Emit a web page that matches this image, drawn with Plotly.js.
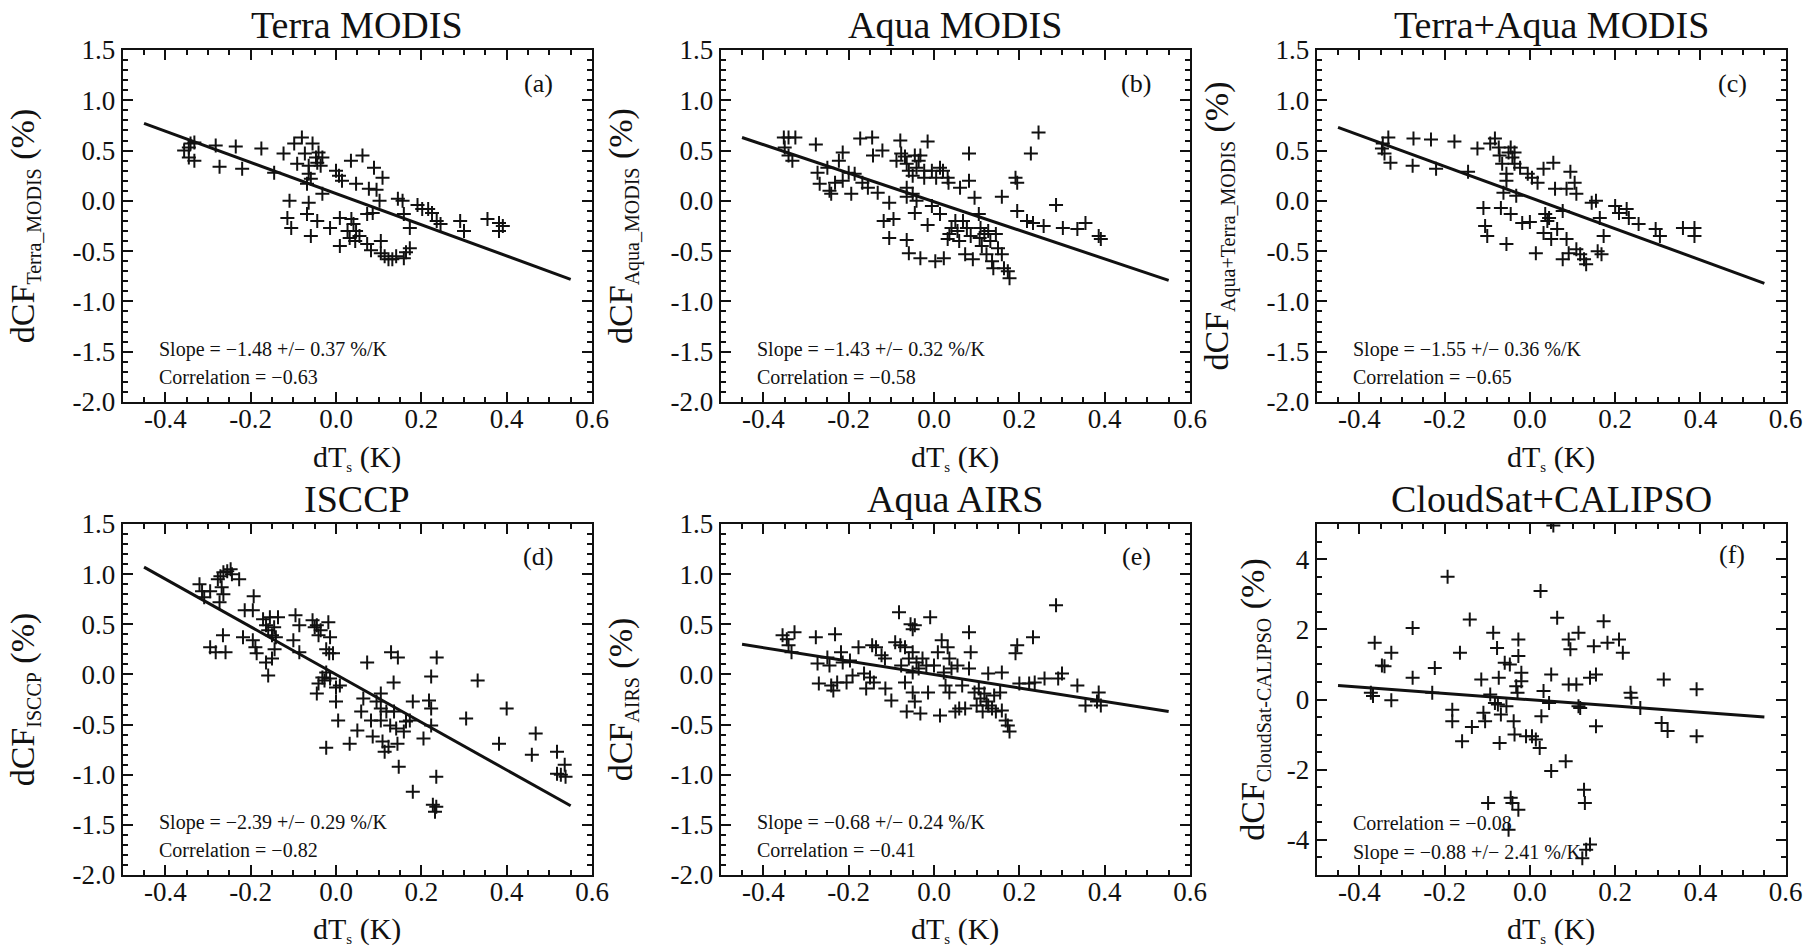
<!DOCTYPE html>
<html>
<head>
<meta charset="utf-8">
<script src="https://cdn.plot.ly/plotly-3.0.1.min.js"></script>
<style>
html,body{margin:0;padding:0;background:#ffffff;}
#chart{width:1818px;height:946px;}
</style>
</head>
<body>
<div id="chart"></div>
<script>
// ---------------- data ----------------
const panelTitles = ['Terra MODIS', 'Aqua MODIS', 'Terra+Aqua MODIS', 'ISCCP', 'Aqua AIRS', 'CloudSat+CALIPSO'];
const panelLetters = ['(a)', '(b)', '(c)', '(d)', '(e)', '(f)'];
const ySubscripts = ['Terra_MODIS', 'Aqua_MODIS', 'Aqua+Terra_MODIS', 'ISCCP', 'AIRS', 'CloudSat-CALIPSO'];
const slopeTexts = ['Slope = −1.48 +/− 0.37 %/K', 'Slope = −1.43 +/− 0.32 %/K', 'Slope = −1.55 +/− 0.36 %/K',
                    'Slope = −2.39 +/− 0.29 %/K', 'Slope = −0.68 +/− 0.24 %/K', 'Slope = −0.88 +/− 2.41 %/K'];
const corrTexts = ['Correlation = −0.63', 'Correlation = −0.58', 'Correlation = −0.65',
                   'Correlation = −0.82', 'Correlation = −0.41', 'Correlation = −0.08'];

const xTickVals = [-0.4, -0.2, 0.0, 0.2, 0.4, 0.6];
const xTickText = ['-0.4', '-0.2', '0.0', '0.2', '0.4', '0.6'];
const yTickVals = [-2.0, -1.5, -1.0, -0.5, 0.0, 0.5, 1.0, 1.5];
const yTickText = ['-2.0', '-1.5', '-1.0', '-0.5', '0.0', '0.5', '1.0', '1.5'];
const yTickValsF = [-4, -2, 0, 2, 4];
const yTickTextF = ['-4', '-2', '0', '2', '4'];

// regression lines: endpoints at fitX
const fitX = [-0.45, 0.55];
const fitA = [0.77, -0.78];
const fitB = [0.63, -0.79];
const fitC = [0.73, -0.82];
const fitD = [1.07, -1.31];
const fitE = [0.30, -0.37];
const fitF = [0.40, -0.50];

// (a) Terra MODIS
const xA = [-0.356,-0.345,-0.332,-0.341,-0.332,-0.345,-0.282,-0.273,-0.235,-0.22,
-0.175,-0.145,-0.123,-0.098,-0.08,-0.091,-0.073,-0.064,-0.055,-0.047,
-0.041,-0.044,-0.032,-0.036,-0.064,-0.068,-0.059,-0.032,-0.109,-0.064,
-0.114,-0.105,-0.068,-0.044,-0.059,-0.014,0.0,0.007,0.014,0.047,
0.035,0.062,0.089,0.109,0.077,0.095,0.102,0.086,0.073,0.009,
0.036,0.041,0.047,0.027,0.055,0.009,0.032,0.045,0.073,0.082,
0.105,0.105,0.114,0.123,0.132,0.141,0.159,0.164,0.173,0.173,
0.159,0.145,0.156,0.191,0.202,0.216,0.225,0.245,0.236,0.291,
0.30,0.355,0.382,0.391,0.382];
const yA = [0.50,0.43,0.40,0.57,0.58,0.53,0.55,0.34,0.54,0.32,
0.52,0.28,0.47,0.57,0.63,0.37,0.47,0.35,0.57,0.43,
0.48,0.38,0.43,0.35,0.27,0.17,0.22,0.07,0.0,-0.02,
-0.17,-0.27,-0.13,-0.2,-0.35,-0.27,0.30,0.25,0.2,0.17,
0.40,0.45,0.33,0.23,0.12,0.11,0.0,-0.12,-0.13,-0.17,
-0.18,-0.23,-0.30,-0.30,-0.35,-0.45,-0.37,-0.40,-0.43,-0.49,
-0.40,-0.52,-0.55,-0.58,-0.58,-0.55,-0.57,-0.51,-0.47,-0.27,
-0.13,0.02,0.0,-0.04,-0.08,-0.08,-0.12,-0.23,-0.20,-0.20,
-0.30,-0.18,-0.22,-0.25,-0.30];

// (b) Aqua MODIS
const xB = [-0.352,-0.341,-0.325,-0.35,-0.341,-0.332,-0.277,-0.273,-0.268,-0.25,
-0.245,-0.241,-0.232,-0.223,-0.214,-0.214,-0.2,-0.194,-0.186,-0.168,
-0.155,-0.173,-0.145,-0.143,-0.132,-0.121,-0.105,-0.118,-0.095,-0.105,
-0.079,-0.077,-0.088,-0.068,-0.064,-0.059,-0.05,-0.045,-0.041,-0.036,
-0.032,-0.023,-0.023,-0.064,-0.05,-0.064,-0.041,-0.045,-0.064,-0.059,
-0.032,-0.015,-0.005,0.005,0.014,0.032,0.021,0.034,-0.005,0.014,
-0.015,0.003,0.023,0.036,0.032,0.041,0.05,0.055,0.059,0.061,
0.082,0.082,0.095,0.068,0.077,0.086,0.073,0.091,0.105,0.109,
0.107,0.112,0.118,0.123,0.127,0.132,0.139,0.136,0.145,0.15,
0.159,0.159,0.164,0.173,0.177,0.191,0.195,0.195,0.218,0.227,
0.245,0.232,0.257,0.286,0.302,0.336,0.355,0.386,0.391];
const yB = [0.63,0.63,0.63,0.53,0.45,0.40,0.56,0.28,0.17,0.33,
0.10,0.07,0.18,0.40,0.48,0.20,0.28,0.07,0.27,0.18,
0.13,0.62,0.63,0.45,0.08,0.50,-0.02,-0.20,-0.18,-0.37,
0.60,0.47,0.40,0.44,0.37,0.30,0.25,0.45,0.33,0.40,
0.45,0.30,0.23,0.13,0.07,0.04,0.0,-0.12,-0.39,-0.52,
-0.57,0.59,0.30,0.23,0.33,0.23,0.30,0.18,-0.05,-0.13,
-0.24,-0.60,-0.57,-0.33,-0.38,-0.27,-0.2,-0.30,-0.40,0.13,
0.20,0.47,0.03,-0.2,-0.27,-0.35,-0.53,-0.58,-0.13,-0.27,
-0.37,-0.45,-0.33,-0.53,-0.30,-0.40,-0.67,-0.60,-0.33,-0.47,
-0.53,0.04,-0.67,-0.70,-0.77,0.23,0.18,-0.10,-0.20,0.47,
0.68,-0.22,-0.25,-0.04,-0.27,-0.28,-0.22,-0.35,-0.38];

// (c) Terra+Aqua MODIS
const xC = [-0.345,-0.347,-0.341,-0.332,-0.327,-0.273,-0.275,-0.232,-0.22,-0.177,
-0.145,-0.123,-0.109,-0.105,-0.1,-0.093,-0.082,-0.073,-0.071,-0.065,
-0.068,-0.055,-0.062,-0.055,-0.055,-0.05,-0.041,-0.036,-0.045,-0.036,
-0.023,-0.032,-0.045,-0.018,-0.005,0.005,0.018,0.0,0.014,0.032,
0.055,0.059,0.036,0.045,0.041,0.032,0.05,0.064,0.077,0.086,
0.095,0.105,0.109,0.086,0.077,0.091,0.109,0.118,0.127,0.132,
0.155,0.145,0.159,0.168,0.173,0.164,0.2,0.209,0.227,0.232,
0.255,0.295,0.305,0.359,0.386,0.386];
const yC = [0.57,0.52,0.47,0.63,0.38,0.62,0.35,0.61,0.32,0.59,
0.29,0.52,-0.07,-0.25,-0.35,0.57,0.62,0.53,0.45,0.37,
-0.07,-0.43,0.08,0.27,0.20,0.48,0.43,0.37,0.53,0.48,
0.33,0.05,-0.13,-0.22,0.27,0.23,0.18,-0.21,-0.52,0.32,
0.38,0.12,-0.13,-0.17,-0.20,-0.32,-0.38,-0.28,-0.10,0.12,
0.29,0.18,0.07,-0.38,-0.58,-0.52,-0.48,-0.53,-0.58,-0.63,
0.0,-0.02,-0.50,-0.53,-0.35,-0.17,-0.05,-0.12,-0.08,-0.17,
-0.23,-0.28,-0.35,-0.27,-0.27,-0.35];

// (d) ISCCP
const xD = [-0.32,-0.314,-0.309,-0.295,-0.277,-0.271,-0.264,-0.255,-0.247,-0.244,
-0.227,-0.268,-0.264,-0.273,-0.295,-0.282,-0.259,-0.265,-0.214,-0.195,
-0.193,-0.218,-0.195,-0.189,-0.186,-0.171,-0.164,-0.159,-0.155,-0.145,
-0.141,-0.15,-0.164,-0.159,-0.15,-0.144,-0.136,-0.1,-0.095,-0.086,
-0.086,-0.055,-0.05,-0.045,-0.041,-0.036,-0.018,-0.014,-0.023,-0.016,
-0.007,-0.023,-0.032,-0.041,-0.027,-0.045,-0.014,0.0,0.009,0.0,
0.005,-0.023,0.032,0.05,0.059,0.064,0.073,0.082,0.086,0.095,
0.105,0.105,0.105,0.109,0.114,0.118,0.127,0.123,0.129,0.135,
0.136,0.141,0.144,0.145,0.147,0.159,0.164,0.173,0.18,0.18,
0.205,0.218,0.223,0.223,0.223,0.235,0.236,0.227,0.232,0.235,
0.305,0.332,0.382,0.40,0.459,0.468,0.518,0.518,0.527,0.536,0.538];
const yD = [0.90,0.83,0.77,0.83,0.95,0.98,1.02,1.03,1.05,1.0,
0.95,0.87,0.80,0.72,0.27,0.22,0.22,0.39,0.64,0.64,
0.78,0.37,0.34,0.27,0.21,0.55,0.49,0.44,0.57,0.47,
0.37,0.39,0.12,-0.01,0.16,0.25,0.57,0.34,0.59,0.22,
0.49,0.54,0.47,0.49,0.39,0.44,0.52,0.37,0.25,0.21,
0.21,0.02,-0.03,-0.09,-0.06,-0.19,-0.04,-0.13,-0.11,-0.27,
-0.46,-0.73,-0.69,-0.56,-0.37,-0.24,0.12,-0.46,-0.62,-0.27,
-0.19,-0.34,-0.46,-0.67,-0.77,-0.37,-0.51,-0.72,0.22,-0.08,
-0.37,-0.54,-0.69,0.17,-0.92,-0.57,-0.47,-0.46,-0.27,-1.17,
-0.64,-0.26,-0.34,-0.02,-0.51,-1.02,0.17,-1.30,-1.37,-1.32,
-0.44,-0.06,-0.69,-0.34,-0.80,-0.59,-0.77,-0.99,-1.00,-0.90,-1.02];

// (e) Aqua AIRS
const xE = [-0.355,-0.345,-0.341,-0.327,-0.334,-0.277,-0.273,-0.27,-0.25,-0.245,
-0.241,-0.236,-0.232,-0.227,-0.218,-0.214,-0.205,-0.197,-0.191,-0.177,
-0.164,-0.159,-0.15,-0.145,-0.136,-0.141,-0.123,-0.115,-0.114,-0.1,
-0.091,-0.082,-0.079,-0.077,-0.068,-0.068,-0.064,-0.059,-0.055,-0.05,
-0.045,-0.05,-0.05,-0.05,-0.045,-0.041,-0.036,-0.032,-0.027,-0.018,
-0.014,-0.009,0.0,0.009,0.014,0.018,0.023,0.027,0.032,0.036,
0.036,0.041,0.05,0.055,0.059,0.066,0.082,0.082,0.086,0.073,
0.095,0.1,0.105,0.109,0.114,0.118,0.123,0.127,0.127,0.136,
0.141,0.145,0.155,0.159,0.159,0.168,0.173,0.177,0.191,0.195,
0.2,0.223,0.232,0.236,0.259,0.286,0.291,0.3,0.336,0.355,
0.386,0.382,0.391];
const yE = [0.39,0.35,0.29,0.42,0.22,0.37,0.11,-0.09,0.17,0.09,
-0.11,-0.16,0.40,-0.08,0.22,0.12,-0.08,0.14,-0.01,0.27,
0.01,-0.14,-0.03,0.29,0.27,-0.08,0.19,0.16,-0.14,-0.26,
0.32,0.62,0.29,0.09,0.27,-0.08,-0.37,0.16,0.50,0.45,
0.49,0.22,0.02,-0.18,-0.27,0.12,0.06,-0.39,0.16,0.09,
-0.18,0.57,0.09,0.22,-0.41,0.34,0.02,-0.11,0.27,0.16,
-0.18,0.06,-0.37,0.09,-0.34,-0.11,0.42,0.06,0.22,-0.34,
-0.18,-0.31,-0.14,-0.24,-0.37,-0.19,-0.27,0.01,-0.31,-0.34,
-0.21,-0.37,-0.18,0.02,-0.36,-0.46,-0.51,-0.57,0.21,0.29,
-0.09,-0.09,0.37,-0.08,-0.04,0.69,-0.04,0.01,-0.11,-0.31,
-0.18,-0.27,-0.31];

// (f) CloudSat+CALIPSO
const xF = [-0.364,-0.373,-0.368,-0.347,-0.341,-0.325,-0.325,-0.275,-0.275,-0.223,
-0.229,-0.193,-0.182,-0.182,-0.164,-0.159,-0.141,-0.136,-0.114,-0.109,
-0.105,-0.098,-0.093,-0.086,-0.077,-0.082,-0.075,-0.073,-0.071,-0.068,
-0.059,-0.055,-0.05,-0.047,-0.045,-0.041,-0.038,-0.036,-0.032,-0.029,
-0.027,-0.027,-0.027,-0.02,-0.02,-0.009,0.005,0.014,0.023,0.025,
0.027,0.032,0.045,0.05,0.05,0.055,0.064,0.084,0.091,0.095,
0.091,0.109,0.114,0.114,0.118,0.123,0.127,0.129,0.132,0.141,
0.141,0.15,0.155,0.155,0.173,0.182,0.209,0.218,0.236,0.238,
0.259,0.309,0.314,0.323,0.391,0.391];
const yF = [1.62,0.19,0.10,0.97,0.95,1.33,-0.02,2.04,0.62,0.90,
0.19,3.50,-0.29,-0.62,1.33,-1.19,2.28,-0.78,0.57,-0.38,
-0.62,-2.95,0.14,1.90,1.47,-0.10,-0.14,0.62,-1.24,-0.43,
1.05,-0.19,-3.71,1.0,-2.80,-2.95,-0.62,-1.0,0.38,0.19,
1.71,1.24,-3.14,0.76,0.52,-1.05,-1.05,-1.14,-1.38,3.09,
-0.48,0.24,-0.10,0.71,-2.04,4.96,2.33,-1.76,1.71,1.43,
0.43,0.43,1.90,-0.19,-0.24,-4.52,-2.57,-2.95,-4.28,0.62,
-4.13,1.52,-0.76,0.71,2.23,1.62,1.71,1.33,0.19,0.05,
-0.24,-0.67,0.57,-0.90,0.29,-1.05];

// ---------------- figure ----------------
const xs = [xA, xB, xC, xD, xE, xF];
const ys = [yA, yB, yC, yD, yE, yF];
const fits = [fitA, fitB, fitC, fitD, fitE, fitF];

const FONT = 'Liberation Serif, Times New Roman, serif';
const INK = '#111111';
const W = 1818, H = 946;
const colPx = [[122.7, 592], [720.7, 1190], [1316.7, 1785.7]];
const rowPx = [[50, 402], [524, 875]];

const traces = [];
const layout = {
  width: W, height: H,
  margin: {l: 0, r: 0, t: 0, b: 0, pad: 0},
  paper_bgcolor: '#ffffff', plot_bgcolor: '#ffffff',
  showlegend: false,
  font: {family: FONT, color: INK},
  annotations: []
};

for (let i = 0; i < 6; i++) {
  const sfx = i === 0 ? '' : String(i + 1);
  const xa = 'x' + sfx, ya = 'y' + sfx;
  const col = colPx[i % 3], row = rowPx[Math.floor(i / 3)];
  const isF = i === 5;
  const isBottom = i >= 3;

  traces.push({
    type: 'scatter', mode: 'markers', x: xs[i], y: ys[i], xaxis: xa, yaxis: ya,
    marker: {symbol: 'cross-thin-open', size: 10, color: INK, line: {color: INK, width: 2}},
    hoverinfo: 'skip'
  });
  traces.push({
    type: 'scatter', mode: 'lines', x: fitX, y: fits[i], xaxis: xa, yaxis: ya,
    line: {color: INK, width: 3}, hoverinfo: 'skip'
  });

  const common = {
    showline: true, linewidth: 2, linecolor: INK, mirror: 'ticks',
    ticks: 'inside', ticklen: 10, tickwidth: 2, tickcolor: INK,
    showgrid: false, zeroline: false, fixedrange: true,
    tickfont: {family: FONT, size: 27, color: INK}
  };

  layout['xaxis' + sfx] = Object.assign({}, common, {
    domain: [col[0] / W, col[1] / W],
    anchor: ya, range: [-0.5, 0.6],
    tickmode: 'array', tickvals: xTickVals, ticktext: xTickText,
    ticklabelstandoff: -8,
    minor: {dtick: 0.05, tick0: 0, ticks: 'inside', ticklen: 5, tickwidth: 2, tickcolor: INK, showgrid: false}
  });
  layout['yaxis' + sfx] = Object.assign({}, common, {
    domain: [1 - row[1] / H, 1 - row[0] / H],
    anchor: xa, range: isF ? [-5, 5] : [-2, 1.5],
    tickmode: 'array', tickvals: isF ? yTickValsF : yTickVals, ticktext: isF ? yTickTextF : yTickText,
    minor: {dtick: isF ? 0.5 : 0.1, tick0: 0, ticks: 'inside', ticklen: 5, tickwidth: 2, tickcolor: INK, showgrid: false},
    title: {
      text: 'dCF<span style="font-size:20px;baseline-shift:-7px">' + ySubscripts[i] + '</span> (%)',
      font: {family: FONT, size: 34, color: INK}, standoff: isF ? 12 : 28
    }
  });

  // x-axis title (drawn as annotation so it keeps its place under the tick labels)
  layout.annotations.push({
    text: 'dT<span style="font-size:15px;baseline-shift:-5px">s</span> (K)',
    xref: xa + ' domain', yref: ya + ' domain', x: 0.5, y: 0,
    xanchor: 'center', yanchor: 'top', yshift: isBottom ? -35 : -36, showarrow: false,
    font: {family: FONT, size: 30, color: INK}
  });
  // panel title
  layout.annotations.push({
    text: panelTitles[i], xref: xa + ' domain', yref: ya + ' domain', x: 0.5, y: 1,
    xanchor: 'center', yanchor: 'bottom', yshift: 2, showarrow: false,
    font: {family: FONT, size: 38, color: INK}
  });
  // panel letter
  layout.annotations.push({
    text: panelLetters[i], xref: xa + ' domain', yref: ya + ' domain', x: 0.886, y: isF ? 0.913 : 0.906,
    xanchor: 'center', yanchor: 'middle', showarrow: false,
    font: {family: FONT, size: 26, color: INK}
  });
  // statistics
  const top = isF ? corrTexts[i] : slopeTexts[i];
  const bot = isF ? slopeTexts[i] : corrTexts[i];
  layout.annotations.push({
    text: top, xref: xa + ' domain', yref: ya + ' domain', x: 0.073, y: isF ? 0.148 : 0.149,
    xanchor: 'left', yanchor: 'middle', showarrow: false,
    font: {family: FONT, size: 20, color: INK}
  });
  layout.annotations.push({
    text: bot, xref: xa + ' domain', yref: ya + ' domain', x: 0.073, y: isF ? 0.063 : 0.071,
    xanchor: 'left', yanchor: 'middle', showarrow: false,
    font: {family: FONT, size: 20, color: INK}
  });
}

Plotly.newPlot('chart', traces, layout, {staticPlot: true, displayModeBar: false});
</script>
</body>
</html>
